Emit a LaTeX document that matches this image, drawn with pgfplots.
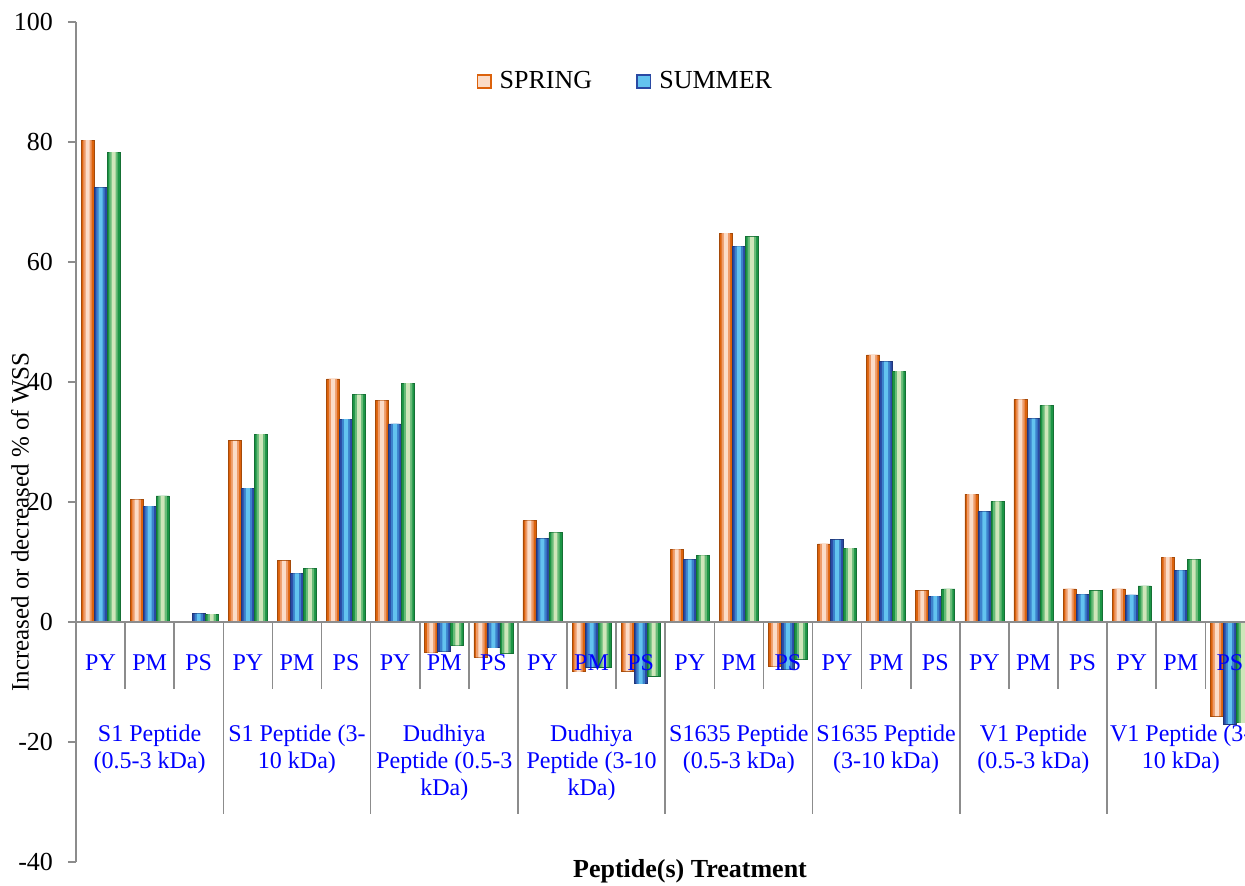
\documentclass[border=0pt]{standalone}
\usepackage{fontspec}
\setmainfont{Liberation Serif}
\usepackage{pgfplots}
\pgfplotsset{compat=1.18}
\usepackage{pgfplotstable}

\definecolor{ordark}{HTML}{DC620C}
\definecolor{ormid}{HTML}{EE9C6A}
\definecolor{orlight}{HTML}{FBDCC8}
\definecolor{bldark}{HTML}{2A49A3}
\definecolor{blmid}{HTML}{3C82CC}
\definecolor{bllight}{HTML}{63C3EF}
\definecolor{grdark}{HTML}{1C9545}
\definecolor{grmid}{HTML}{68BB78}
\definecolor{grlight}{HTML}{CFE6BA}
\definecolor{axgray}{HTML}{8C8C8C}
\definecolor{lblue}{HTML}{0000FF}

\pgfplotstableread{
x spring summer other
0  80.3 72.4 78.3
1  20.4 19.3 21.0
2  0.0  1.4  1.3
3  30.2 22.3 31.3
4  10.2 8.1  8.9
5  40.5 33.8 37.9
6  36.9 33.0 39.8
7  -5.1 -4.9 -3.9
8  -5.9 -4.3 -5.2
9  16.9 13.9 14.9
10 -8.3 -7.5 -7.5
11 -8.2 -10.3 -9.0
12 12.1 10.4 11.1
13 64.8 62.6 64.2
14 -7.4 -7.9 -6.2
15 13.0 13.7 12.3
16 44.5 43.4 41.8
17 5.2  4.3  5.5
18 21.3 18.4 20.1
19 37.1 33.9 36.1
20 5.5  4.6  5.2
21 5.5  4.5  6.0
22 10.8 8.6  10.4
23 -15.7 -17.0 -16.8
}\datatable

\begin{document}
\begin{tikzpicture}
\useasboundingbox (0,0) rectangle (622.5pt,443pt);
\clip (0,0) rectangle (622.5pt,443pt);
\begin{axis}[
  at={(38pt,12pt)}, anchor=south west,
  scale only axis, width=589.2pt, height=420pt,
  xmin=-0.5, xmax=23.5, ymin=-40, ymax=100,
  axis x line=none, axis y line*=left,
  axis line style={-, draw=axgray, line width=0.8pt},
  ytick={-40,-20,...,100},
  ytick style={draw=axgray, line width=0.8pt},
  tick align=outside, major tick length=4pt,
  /pgf/number format/assume math mode=true,
  yticklabel style={font=\fontsize{13}{15}\selectfont, xshift=-4pt},
  ybar, bar width=0.265,
  legend style={at={(rel axis cs:0.467,0.929)}, anchor=center, draw=none, fill=none,
    font=\fontsize{13}{15}\selectfont,
    /tikz/every even column/.append style={column sep=20pt}},
  legend columns=2,
]
% base bars (dark edges)
\addplot[bar shift=-0.265, draw=ordark!75!black, line width=0.3pt, fill=ordark,
  legend image code/.code={\draw[fill=orlight, draw=ordark, line width=0.8pt] (-3.5pt,-3.3pt) rectangle (3.3pt,3.3pt); \path (5.5pt,0pt);}]
  table[x=x, y=spring] {\datatable};
\addlegendentry{SPRING}
\addplot[bar shift=0, draw=bldark!75!black, line width=0.3pt, fill=bldark,
  legend image code/.code={\draw[fill=bllight, draw=bldark, line width=0.8pt] (-3.5pt,-3.3pt) rectangle (3.3pt,3.3pt); \path (5.5pt,0pt);}]
  table[x=x, y=summer] {\datatable};
\addlegendentry{SUMMER}
\addplot[forget plot, bar shift=0.265, draw=grdark!75!black, line width=0.3pt, fill=grdark]
  table[x=x, y=other] {\datatable};
% middle layer
\addplot[forget plot, bar shift=-0.265, bar width=0.17, draw=none, fill=ormid]
  table[x=x, y=spring] {\datatable};
\addplot[forget plot, bar shift=0, bar width=0.17, draw=none, fill=blmid]
  table[x=x, y=summer] {\datatable};
\addplot[forget plot, bar shift=0.265, bar width=0.17, draw=none, fill=grmid]
  table[x=x, y=other] {\datatable};
% highlight layer
\addplot[forget plot, bar shift=-0.265, bar width=0.08, draw=none, fill=orlight]
  table[x=x, y=spring] {\datatable};
\addplot[forget plot, bar shift=0, bar width=0.08, draw=none, fill=bllight]
  table[x=x, y=summer] {\datatable};
\addplot[forget plot, bar shift=0.265, bar width=0.08, draw=none, fill=grlight]
  table[x=x, y=other] {\datatable};

\draw[axgray, line width=0.8pt] (axis cs:-0.5,0) -- (axis cs:23.5,0);
\pgfplotsinvokeforeach{0.5,1.5,3.5,4.5,6.5,7.5,9.5,10.5,12.5,13.5,15.5,16.5,18.5,19.5,21.5,22.5}{
  \draw[axgray, line width=0.8pt] (axis cs:#1,0) -- (axis cs:#1,-11.2);
}
\pgfplotsinvokeforeach{2.5,5.5,8.5,11.5,14.5,17.5,20.5}{
  \draw[axgray, line width=0.8pt] (axis cs:#1,0) -- (axis cs:#1,-32);
}
\pgfplotsinvokeforeach{0,3,6,9,12,15,18,21}{
  \node[text=lblue, font=\fontsize{12}{14}\selectfont] at (axis cs:#1,-6.7) {PY};
}
\pgfplotsinvokeforeach{1,4,7,10,13,16,19,22}{
  \node[text=lblue, font=\fontsize{12}{14}\selectfont] at (axis cs:#1,-6.7) {PM};
}
\pgfplotsinvokeforeach{2,5,8,11,14,17,20,23}{
  \node[text=lblue, font=\fontsize{12}{14}\selectfont] at (axis cs:#1,-6.7) {PS};
}
\tikzset{grp/.style={text=lblue, font=\fontsize{12}{13.5}\selectfont, align=center, anchor=north, inner sep=0pt}}
\node[grp] at (axis cs:1,-17) {S1 Peptide\\(0.5-3 kDa)};
\node[grp] at (axis cs:4,-17) {S1 Peptide (3-\\10 kDa)};
\node[grp] at (axis cs:7,-17) {Dudhiya\\Peptide (0.5-3\\kDa)};
\node[grp] at (axis cs:10,-17) {Dudhiya\\Peptide (3-10\\kDa)};
\node[grp] at (axis cs:13,-17) {S1635 Peptide\\(0.5-3 kDa)};
\node[grp] at (axis cs:16,-17) {S1635 Peptide\\(3-10 kDa)};
\node[grp] at (axis cs:19,-17) {V1 Peptide\\(0.5-3 kDa)};
\node[grp] at (axis cs:22,-17) {V1 Peptide (3-\\10 kDa)};
\end{axis}
\node[rotate=90, font=\fontsize{12.5}{15}\selectfont] at (10pt,182pt) {Increased or decreased \% of WSS};
\node[font=\bfseries\fontsize{13}{15}\selectfont] at (345pt,7.5pt) {Peptide(s) Treatment};
\end{tikzpicture}
\end{document}
